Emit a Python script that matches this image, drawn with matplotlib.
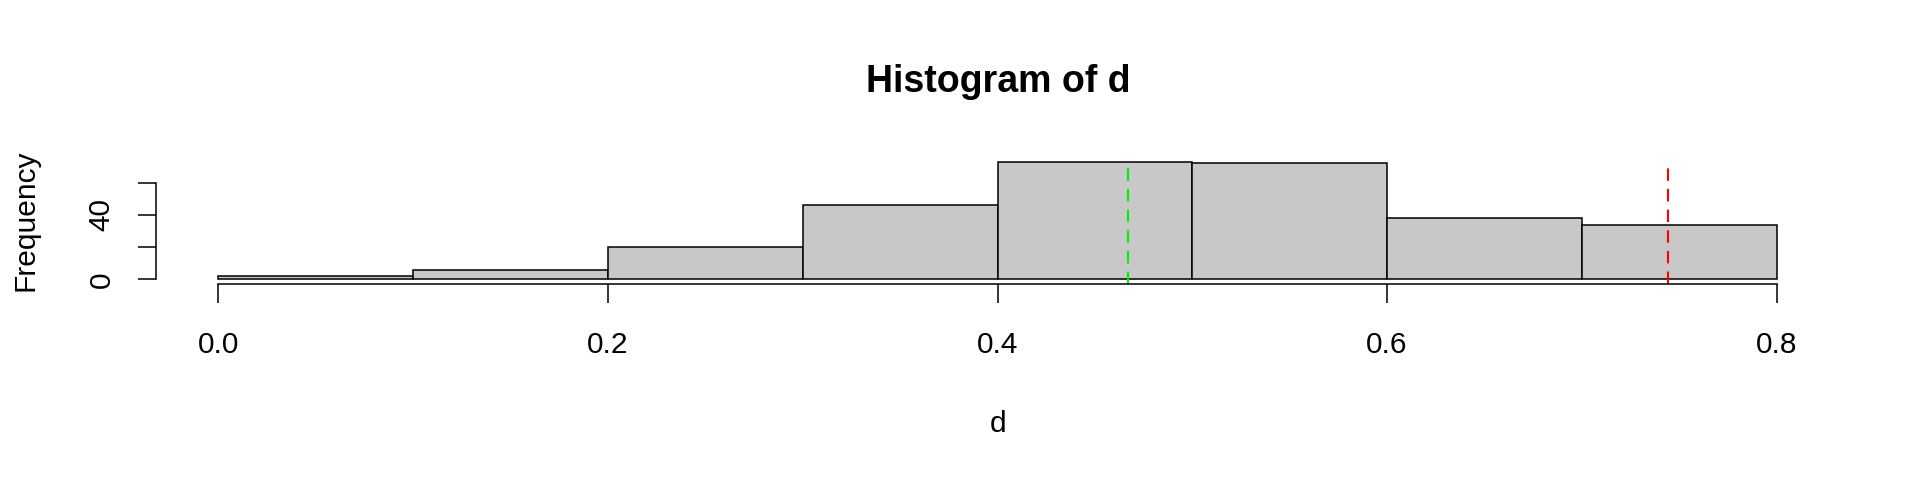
import matplotlib
matplotlib.use("Agg")
import matplotlib.pyplot as plt

plt.rcParams["font.family"] = ["Liberation Sans", "DejaVu Sans"]

# histogram of d: bin edges and counts
bin_edges = [0.0, 0.1, 0.2, 0.3, 0.4, 0.5, 0.6, 0.7, 0.8]
counts = [2, 6, 20, 46, 73, 72, 38, 34]
green_x = 0.467
red_x = 0.744

x_ticks = [0.0, 0.2, 0.4, 0.6, 0.8]
x_labels = ["0.0", "0.2", "0.4", "0.6", "0.8"]
y_ticks = [0, 20, 40, 60]
y_labels = ["0", "", "40", ""]

W, H = 1920, 480
fig = plt.figure(figsize=(W / 100, H / 100), dpi=100)

# plot region in pixels (R style, 4% padding on both axes)
left, right, top, bottom = 156, 1839, 157, 284
ax = fig.add_axes([left / W, 1 - bottom / H, (right - left) / W, (bottom - top) / H])

lefts = bin_edges[:-1]
widths = [b - a for a, b in zip(bin_edges[:-1], bin_edges[1:])]
ax.bar(lefts, counts, width=widths, align="edge",
       color="#c8c8c8", edgecolor="black", linewidth=1.1)

dash = (0, (6, 3.9))
ax.vlines([green_x], -2.9, 70.5, colors="#00ee00", linestyles=dash, linewidth=1.5)
ax.vlines([red_x], -2.9, 70.5, colors="#ff0000", linestyles=dash, linewidth=1.5)

ax.set_xlim(-0.032, 0.832)
ax.set_ylim(-2.92, 75.92)

for s in ("top", "right"):
    ax.spines[s].set_visible(False)
ax.spines["left"].set_bounds(0, 60)
ax.spines["bottom"].set_bounds(0, 0.8)
for s in ("left", "bottom"):
    ax.spines[s].set_linewidth(1.1)

ax.set_xticks(x_ticks)
ax.set_xticklabels(x_labels)
ax.set_yticks(y_ticks)
ax.set_yticklabels(y_labels, rotation=90, va="center")
ax.tick_params(axis="x", length=13.5, width=1.1, pad=20, labelsize=21.5)
ax.tick_params(axis="y", length=13, width=1.1, pad=16, labelsize=21.5)

fig.text(998 / W, 1 - 82 / H, "Histogram of d", ha="center", va="center",
         fontsize=27, fontweight="bold")
fig.text(998 / W, 1 - 424 / H, "d", ha="center", va="center", fontsize=21.5)
fig.text(25 / W, 1 - 220 / H, "Frequency", ha="center", va="center",
         rotation=90, fontsize=21.5)

fig.savefig("out.png", dpi=100)
